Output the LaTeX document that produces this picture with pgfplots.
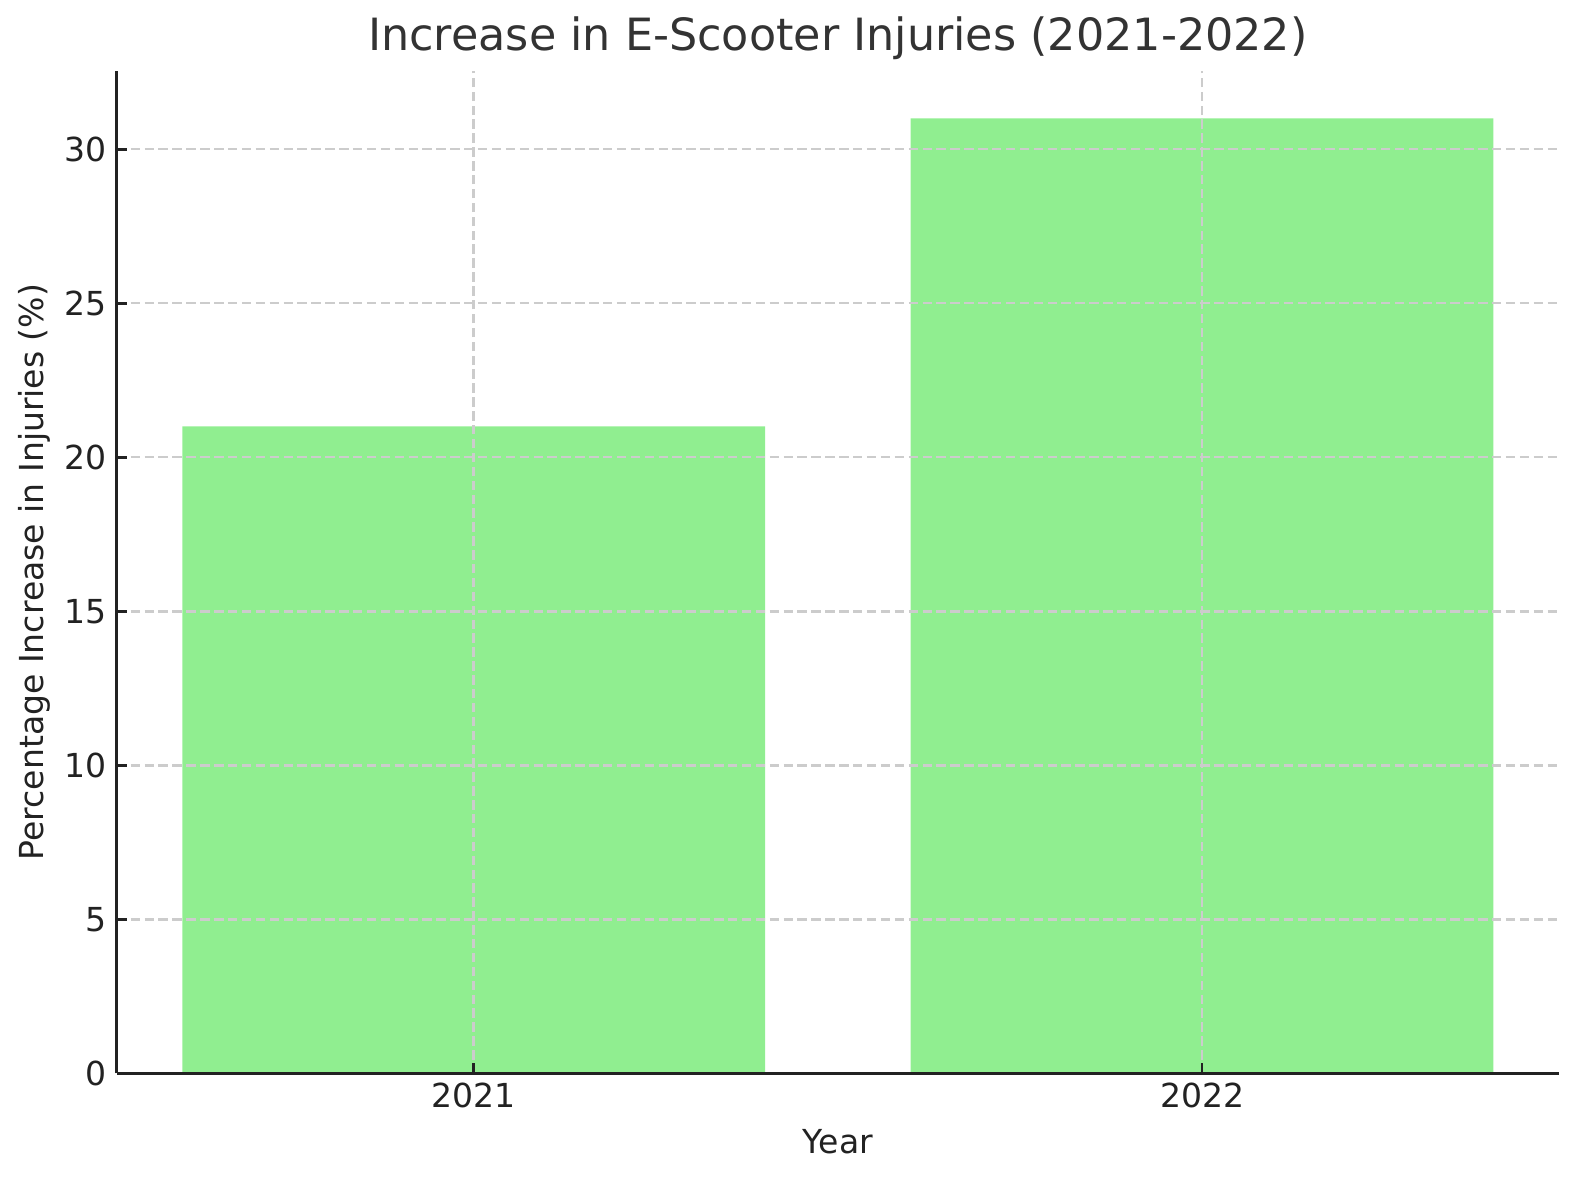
\documentclass[border=0pt]{standalone}
\usepackage{fontspec}
\setmainfont{DejaVu Sans}
\usepackage{pgfplots}
\pgfplotsset{compat=1.18}
\definecolor{barg}{HTML}{90EE90}
\definecolor{gridc}{HTML}{CCCCCC}
\definecolor{axc}{HTML}{222222}
\definecolor{titc}{HTML}{333333}
\begin{document}
\begin{tikzpicture}
\path[use as bounding box] (-42.05pt,-38.4pt) rectangle (526.3pt,386.4pt);
\begin{axis}[
  at={(0,0)}, anchor=south west,
  scale only axis, width=519.1pt, height=361pt,
  xmin=-0.49, xmax=1.49, ymin=0, ymax=32.55,
  axis x line*=bottom, axis y line*=left,
  axis line style={axc, line width=1.1pt},
  axis on top,
  xtick={0,1}, xticklabels={2021,2022},
  ytick={0,5,10,15,20,25,30},
  tick align=inside,
  major tick length=3.8pt,
  tick style={axc, line width=1pt},
  grid=major,
  major grid style={gridc, line width=0.9pt, dash pattern=on 3.4pt off 1.6pt},
  /pgf/number format/assume math mode=true,
  ticklabel style={font=\fontsize{11.9}{13}\selectfont, text=axc},
  xlabel={Year}, ylabel={Percentage Increase in Injuries (\%)},
  every axis x label/.style={at={(axis description cs:0.5,0)}, anchor=center, yshift=-24.5pt, font=\fontsize{11.9}{13}\selectfont, text=axc},
  every axis y label/.style={at={(axis description cs:0,0.5)}, anchor=center, rotate=90, yshift=29.5pt, font=\fontsize{11.9}{13}\selectfont, text=axc},
  title={Increase in E-Scooter Injuries (2021-2022)},
  every axis title/.style={at={(axis description cs:0.5,1)}, anchor=center, yshift=11.6pt, font=\fontsize{16}{19}\selectfont, text=titc},
]
\addplot[ybar, bar width=0.8, fill=barg, draw=none] coordinates {(0,21) (1,31)};
\end{axis}
\end{tikzpicture}
\end{document}
